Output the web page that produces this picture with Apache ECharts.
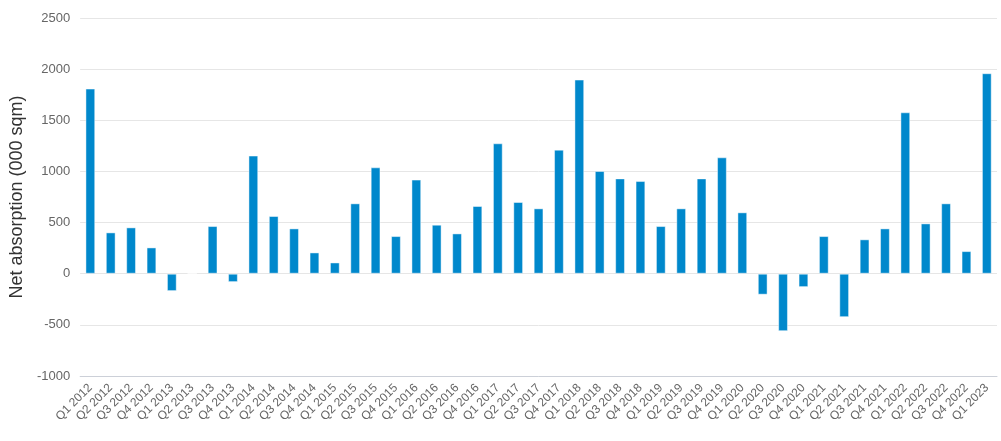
<!DOCTYPE html>
<html>
<head>
<meta charset="utf-8">
<script src="https://cdn.jsdelivr.net/npm/echarts@6/dist/echarts.min.js"></script>
<style>
html,body{margin:0;padding:0;background:#fff;}
#chart{width:1001px;height:441px;}
</style>
</head>
<body>
<div id="chart"></div>
<script>
const categories = [
  'Q1 2012','Q2 2012','Q3 2012','Q4 2012',
  'Q1 2013','Q2 2013','Q3 2013','Q4 2013',
  'Q1 2014','Q2 2014','Q3 2014','Q4 2014',
  'Q1 2015','Q2 2015','Q3 2015','Q4 2015',
  'Q1 2016','Q2 2016','Q3 2016','Q4 2016',
  'Q1 2017','Q2 2017','Q3 2017','Q4 2017',
  'Q1 2018','Q2 2018','Q3 2018','Q4 2018',
  'Q1 2019','Q2 2019','Q3 2019','Q4 2019',
  'Q1 2020','Q2 2020','Q3 2020','Q4 2020',
  'Q1 2021','Q2 2021','Q3 2021','Q4 2021',
  'Q1 2022','Q2 2022','Q3 2022','Q4 2022',
  'Q1 2023'
];
const netAbsorption = [
  1810, 404, 453, 257,
  -170, 5, 466, -82,
  1155, 564, 443, 208,
  110, 688, 1040, 368,
  920, 479, 394, 662,
  1275, 701, 639, 1213,
  1898, 1004, 932, 906,
  466, 639, 932, 1138,
  600, -205, -562, -131,
  368, -425, 336, 443,
  1578, 492, 688, 221,
  1960
];
const yAxisTitle = 'Net absorption (000 sqm)';

const chart = echarts.init(document.getElementById('chart'), null, {renderer: 'canvas'});
chart.setOption({
  animation: false,
  backgroundColor: '#ffffff',
  grid: {left: 80, right: 4, top: 18, bottom: 65, containLabel: false},
  xAxis: {
    type: 'category',
    data: categories,
    axisLine: {onZero: false, lineStyle: {color: '#ccd0d8', width: 1}},
    axisTick: {show: false},
    axisLabel: {
      rotate: 45, interval: 0, color: '#666666', fontSize: 12,
      fontFamily: 'Liberation Sans, Arial, sans-serif', margin: 10
    }
  },
  yAxis: {
    type: 'value',
    min: -1000, max: 2500, interval: 500,
    name: yAxisTitle,
    nameLocation: 'middle',
    nameGap: 54,
    nameTextStyle: {color: '#333333', fontSize: 18, fontFamily: 'Liberation Sans, Arial, sans-serif'},
    axisLine: {show: false},
    axisTick: {show: false},
    axisLabel: {
      color: '#666666', fontSize: 13, fontFamily: 'Liberation Sans, Arial, sans-serif', margin: 10,
      formatter: function (v) { return String(v); }
    },
    splitLine: {lineStyle: {color: '#e6e6e6', width: 1}}
  },
  series: [{
    type: 'bar',
    data: netAbsorption,
    barWidth: '48%',
    itemStyle: {color: '#0088cc', borderColor: 'rgba(255,255,255,0.45)', borderWidth: 1}
  }]
});
</script>
</body>
</html>
